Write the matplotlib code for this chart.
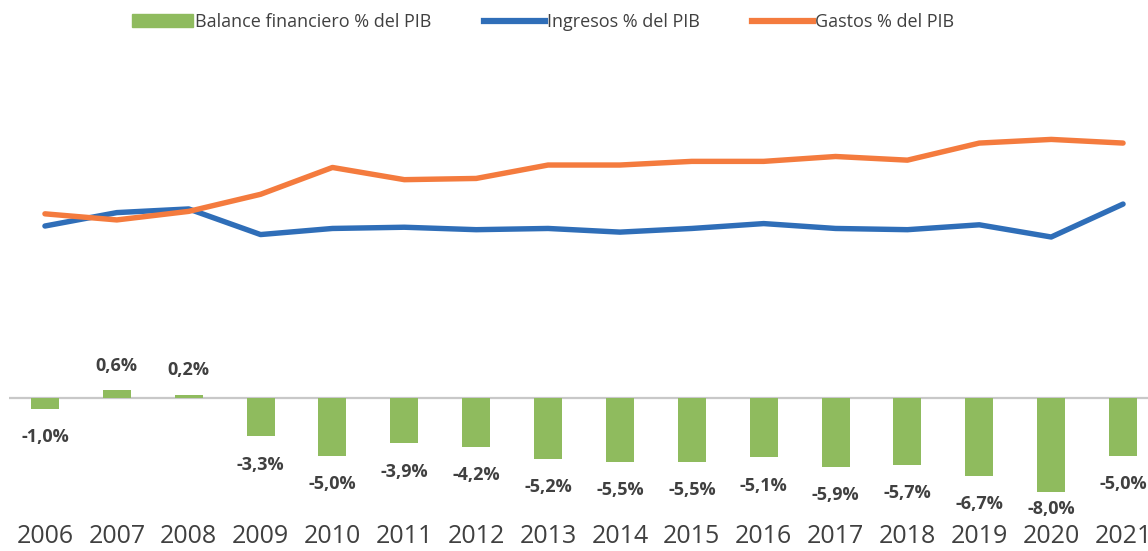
import matplotlib.pyplot as plt
from matplotlib.patches import Patch
from matplotlib.lines import Line2D

plt.rcParams['font.family'] = ['Open Sans', 'DejaVu Sans']

years = ['2006', '2007', '2008', '2009', '2010', '2011', '2012', '2013',
         '2014', '2015', '2016', '2017', '2018', '2019', '2020', '2021']
balance = [-1.0, 0.6, 0.2, -3.3, -5.0, -3.9, -4.2, -5.2, -5.5, -5.5, -5.1, -5.9, -5.7, -6.7, -8.0, -5.0]
ingresos = [38.0, 39.1, 39.4, 37.3, 37.8, 37.9, 37.7, 37.8, 37.5, 37.8, 38.2, 37.8, 37.7, 38.1, 37.1, 39.8]
gastos = [39.0, 38.5, 39.2, 40.6, 42.8, 41.8, 41.9, 43.0, 43.0, 43.3, 43.3, 43.7, 43.4, 44.8, 45.1, 44.8]

green = '#8FBB5E'
blue = '#2F6EB8'
orange = '#F47B3E'
txt = '#404040'

fig = plt.figure(figsize=(11.48, 5.51), dpi=100)
W, H = 1148, 551
# axes spans past the right edge like the cropped original
ax = fig.add_axes([9 / W, (H - 510) / H, 1150 / W, 450 / H])
ax2 = ax.twinx()

x = list(range(len(years)))
ax.bar(x, balance, width=0.39, color=green, zorder=2)
ax.axhline(0, color='#C8C8C8', lw=1.6, zorder=1)
ax.set_xlim(-0.5, len(years) - 0.5)
ax.set_ylim(-9.57, 28.72)

for xi, v in zip(x, balance):
    lab = f'{v:.1f}%'.replace('.', ',')
    if v >= 0:
        y = v + 2.1
    else:
        y = max(v - 2.4, -9.5)   # keep the lowest label clear of the years
    ax.text(xi, y, lab, ha='center', va='center', fontsize=13,
            fontweight='bold', color=txt, clip_on=False)

ax2.plot(x, ingresos, color=blue, lw=3.9, solid_capstyle='round', zorder=3)
ax2.plot(x, gastos, color=orange, lw=3.9, solid_capstyle='round', zorder=3)
ax2.set_ylim(14.72, 51.61)

for a in (ax, ax2):
    for s in a.spines.values():
        s.set_visible(False)
    a.set_yticks([])
ax2.tick_params(length=0)
ax.set_xticks(x)
ax.set_xticklabels(years)
ax.tick_params(axis='x', length=0, pad=10, labelsize=18, labelcolor=txt)

handles = [Patch(color=green), Line2D([], [], color=blue, lw=4.5),
           Line2D([], [], color=orange, lw=4.5)]
labels = ['Balance financiero % del PIB', 'Ingresos % del PIB', 'Gastos % del PIB']
fig.legend(handles, labels, loc='center', bbox_to_anchor=(543 / W, (H - 22) / H),
           ncol=3, frameon=False, fontsize=13, labelcolor=txt,
           handlelength=3.4, handletextpad=0.1, columnspacing=2.9)

fig.savefig('out.png', dpi=100)
